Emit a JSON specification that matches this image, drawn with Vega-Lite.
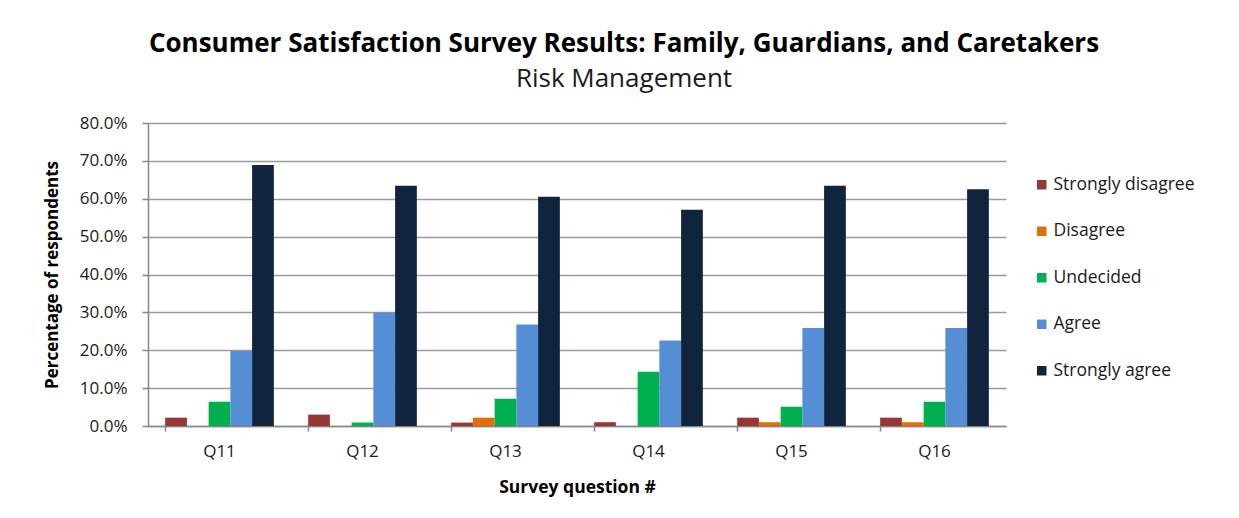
{
  "$schema": "https://vega.github.io/schema/vega-lite/v6.json",
  "width": 858,
  "height": 303,
  "autosize": {"type": "none"},
  "padding": {"left": 148, "top": 123, "right": 233, "bottom": 92},
  "background": "white",
  "title": {
    "text": "Consumer Satisfaction Survey Results: Family, Guardians, and Caretakers",
    "subtitle": "Risk Management",
    "anchor": "middle",
    "frame": "group",
    "dx": 47,
    "offset": 22,
    "font": "Open Sans",
    "fontSize": 26,
    "fontWeight": "bold",
    "color": "#000000",
    "subtitleFont": "Open Sans",
    "subtitleFontSize": 26,
    "subtitleFontWeight": "normal",
    "subtitleColor": "#1a1a1a",
    "subtitlePadding": 9
  },
  "data": {
    "values": [
      {"question": "Q11", "response": "Strongly disagree", "pct": 0.022},
      {"question": "Q11", "response": "Disagree", "pct": 0.0},
      {"question": "Q11", "response": "Undecided", "pct": 0.064},
      {"question": "Q11", "response": "Agree", "pct": 0.198},
      {"question": "Q11", "response": "Strongly agree", "pct": 0.689},
      {"question": "Q12", "response": "Strongly disagree", "pct": 0.030},
      {"question": "Q12", "response": "Disagree", "pct": 0.0},
      {"question": "Q12", "response": "Undecided", "pct": 0.009},
      {"question": "Q12", "response": "Agree", "pct": 0.300},
      {"question": "Q12", "response": "Strongly agree", "pct": 0.634},
      {"question": "Q13", "response": "Strongly disagree", "pct": 0.009},
      {"question": "Q13", "response": "Disagree", "pct": 0.022},
      {"question": "Q13", "response": "Undecided", "pct": 0.072},
      {"question": "Q13", "response": "Agree", "pct": 0.268},
      {"question": "Q13", "response": "Strongly agree", "pct": 0.605},
      {"question": "Q14", "response": "Strongly disagree", "pct": 0.010},
      {"question": "Q14", "response": "Disagree", "pct": 0.0},
      {"question": "Q14", "response": "Undecided", "pct": 0.143},
      {"question": "Q14", "response": "Agree", "pct": 0.226},
      {"question": "Q14", "response": "Strongly agree", "pct": 0.571},
      {"question": "Q15", "response": "Strongly disagree", "pct": 0.022},
      {"question": "Q15", "response": "Disagree", "pct": 0.010},
      {"question": "Q15", "response": "Undecided", "pct": 0.051},
      {"question": "Q15", "response": "Agree", "pct": 0.259},
      {"question": "Q15", "response": "Strongly agree", "pct": 0.634},
      {"question": "Q16", "response": "Strongly disagree", "pct": 0.022},
      {"question": "Q16", "response": "Disagree", "pct": 0.010},
      {"question": "Q16", "response": "Undecided", "pct": 0.064},
      {"question": "Q16", "response": "Agree", "pct": 0.259},
      {"question": "Q16", "response": "Strongly agree", "pct": 0.625}
    ]
  },
  "mark": {"type": "bar"},
  "encoding": {
    "x": {
      "field": "question",
      "type": "nominal",
      "scale": {"paddingInner": 0.24, "paddingOuter": 0.12},
      "axis": {
        "title": "Survey question #",
        "labelAngle": 0,
        "bandPosition": 0,
        "tickSize": 5,
        "labelPadding": 12,
        "titlePadding": 19,
        "labelBaseline": "top",
        "titleFontSize": 17.5
      }
    },
    "xOffset": {
      "field": "response",
      "type": "nominal",
      "sort": ["Strongly disagree", "Disagree", "Undecided", "Agree", "Strongly agree"],
      "scale": {"paddingInner": 0, "paddingOuter": 0}
    },
    "y": {
      "field": "pct",
      "type": "quantitative",
      "scale": {"domain": [0, 0.8], "nice": false},
      "axis": {
        "title": "Percentage of respondents",
        "format": ".1%",
        "values": [0, 0.1, 0.2, 0.3, 0.4, 0.5, 0.6, 0.7, 0.8],
        "tickSize": 6,
        "labelPadding": 15,
        "titlePadding": 18,
        "grid": true
      }
    },
    "color": {
      "field": "response",
      "type": "nominal",
      "scale": {
        "domain": ["Strongly disagree", "Disagree", "Undecided", "Agree", "Strongly agree"],
        "range": ["#953735", "#E46C0A", "#00B050", "#558ED5", "#10243E"]
      },
      "legend": {
        "title": null,
        "orient": "none",
        "legendX": 885,
        "legendY": 53,
        "symbolType": "square",
        "symbolSize": 90,
        "symbolStrokeWidth": 0,
        "labelFont": "Open Sans",
        "labelFontSize": 17.5,
        "labelColor": "#1a1a1a",
        "rowPadding": 27.5,
        "labelOffset": 3
      }
    }
  },
  "config": {
    "view": {"stroke": null},
    "axis": {
      "labelFont": "Open Sans",
      "labelFontSize": 17,
      "labelColor": "#1a1a1a",
      "titleFont": "Open Sans",
      "titleFontSize": 17,
      "titleFontWeight": "bold",
      "titleColor": "#000000",
      "domainColor": "#868686",
      "tickColor": "#868686",
      "gridColor": "#9a9a9a",
      "domainWidth": 1.5,
      "tickWidth": 1.5,
      "gridWidth": 1.5
    },
    "axisX": {"grid": false}
  }
}
